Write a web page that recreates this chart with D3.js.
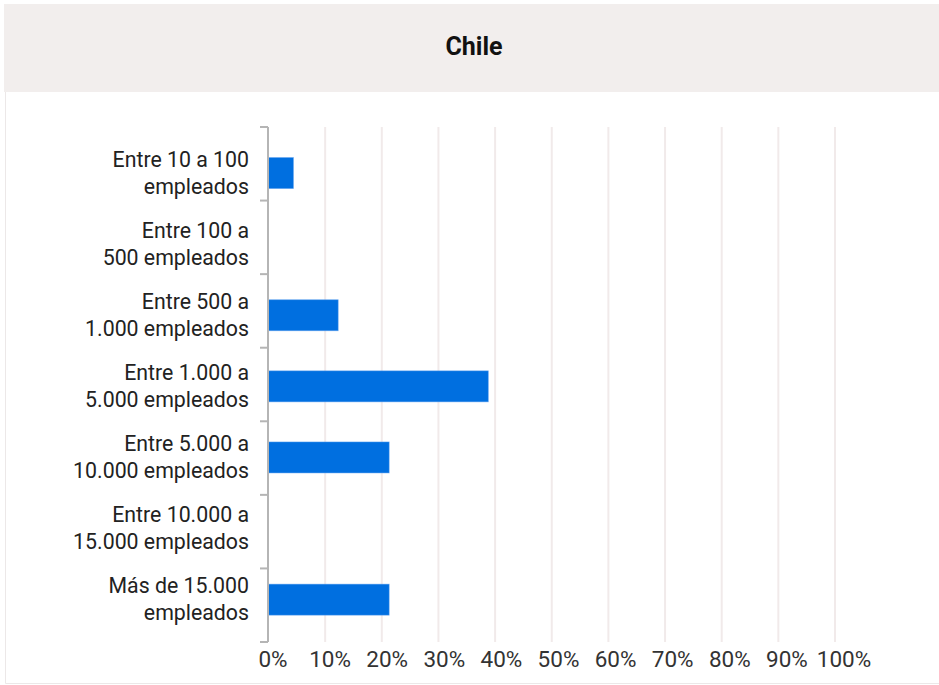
<!DOCTYPE html>
<html><head><meta charset="utf-8">
<script src="https://cdn.jsdelivr.net/npm/d3@7"></script>
<style>html,body{margin:0;padding:0;background:#fff;}svg{display:block;font-family:Roboto,sans-serif;}</style>
</head><body>
<svg id="c" width="939" height="685"></svg>
<script>
const title = "Chile";
const categories = [
  ["Entre 10 a 100", "empleados"],
  ["Entre 100 a", "500 empleados"],
  ["Entre 500 a", "1.000 empleados"],
  ["Entre 1.000 a", "5.000 empleados"],
  ["Entre 5.000 a", "10.000 empleados"],
  ["Entre 10.000 a", "15.000 empleados"],
  ["Más de 15.000", "empleados"]
];
const values = [4.4, 0, 12.3, 38.8, 21.3, 0, 21.3];
const xTicks = [0, 10, 20, 30, 40, 50, 60, 70, 80, 90, 100];

(function () {
const svg = d3.select("#c");
// panel
svg.append("rect").attr("x", 4).attr("y", 4).attr("width", 940).attr("height", 88).attr("fill", "#f2eeed");
svg.append("path").attr("d", "M5.5,92 V683.5 H939").attr("fill", "none").attr("stroke", "#ece8e8").attr("stroke-width", 1);
svg.append("text").attr("x", 474).attr("y", 55).attr("text-anchor", "middle")
  .attr("font-size", 25).attr("font-weight", "bold").attr("fill", "#111").text(title);

const x = d3.scaleLinear().domain([0, 100]).range([268.5, 835]);
const xLab = d3.scaleLinear().domain([0, 100]).range([273, 844]);
const plotTop = 127, plotBottom = 642;
const yTick = d3.scaleLinear().domain([0, categories.length]).range([plotTop, plotBottom]);
const y = d3.scaleBand().domain(d3.range(categories.length)).range([137.5, 635.2]).paddingInner(0.564).paddingOuter(0.282);

// gridlines
svg.append("g").selectAll("line").data(xTicks.slice(1)).join("line")
  .attr("x1", d => x(d)).attr("x2", d => x(d)).attr("y1", plotTop).attr("y2", plotBottom)
  .attr("stroke", "#f1eaea").attr("stroke-width", 2);

// bars
svg.append("g").selectAll("rect").data(values).join("rect")
  .attr("x", x(0)).attr("y", (d, i) => y(i)).attr("height", y.bandwidth())
  .attr("width", d => x(d) - x(0)).attr("fill", "#006fe0")
  .attr("stroke", "#5a9ff0").attr("stroke-width", d => d > 0 ? 0.8 : 0).attr("stroke-opacity", 0.6);

// y axis
svg.append("line").attr("x1", 268).attr("x2", 268).attr("y1", plotTop).attr("y2", plotBottom)
  .attr("stroke", "#b5b5b5").attr("stroke-width", 2);
svg.append("g").selectAll("line").data(d3.range(categories.length + 1)).join("line")
  .attr("x1", 260).attr("x2", 268).attr("y1", d => yTick(d)).attr("y2", d => yTick(d))
  .attr("stroke", "#b5b5b5").attr("stroke-width", 2);

// category labels
const lab = svg.append("g").selectAll("text").data(categories).join("text")
  .attr("text-anchor", "end").attr("font-size", 21.3).attr("fill", "#222");
lab.each(function (d, i) {
  const c = y(i) + y.bandwidth() / 2;
  d3.select(this).selectAll("tspan").data(d).join("tspan")
    .attr("x", 249).attr("y", (t, j) => c - 6.5 + j * 27).text(t => t);
});

// x tick labels
svg.append("g").selectAll("text").data(xTicks).join("text")
  .attr("x", d => xLab(d)).attr("y", 667).attr("text-anchor", "middle")
  .attr("font-size", 22.5).attr("fill", "#333").text(d => d + "%");
})();
</script>
</body></html>
